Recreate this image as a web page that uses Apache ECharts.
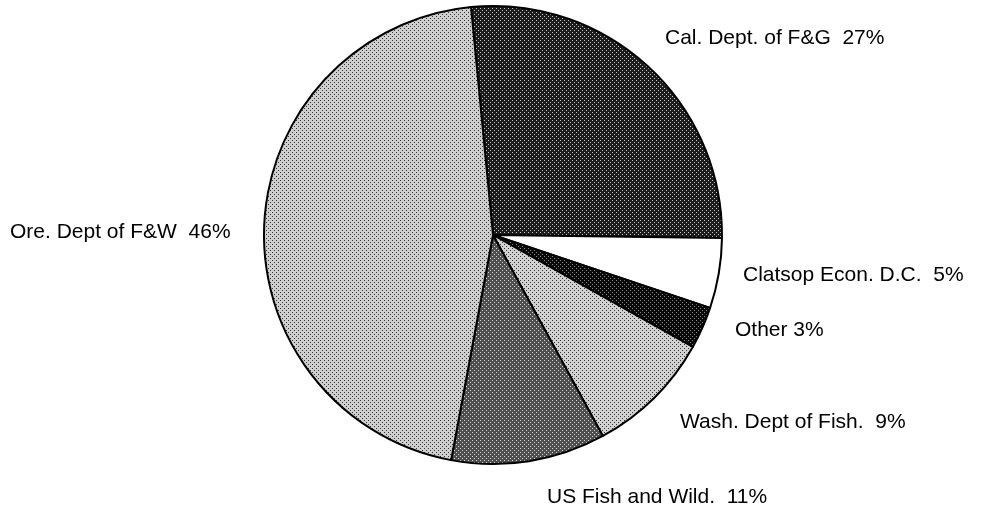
<!DOCTYPE html>
<html>
<head>
<meta charset="utf-8">
<script src="https://cdn.jsdelivr.net/npm/echarts@6/dist/echarts.min.js"></script>
<style>
    html, body { margin: 0; padding: 0; background: #fff; }
    #chart { width: 984px; height: 514px; }
</style>
</head>
<body>
<div id="chart"></div>
<script>
    // slices, clockwise from the top
    var agencies = ['Cal. Dept. of F&G', 'Clatsop Econ. D.C.', 'Other', 'Wash. Dept of Fish.', 'US Fish and Wild.', 'Ore. Dept of F&W'];
    var shares = [27, 5, 3, 9, 11, 46];

    // where each label sits (left edge, middle)
    var labelPos = [[665, 38], [743, 275], [735, 330], [680, 422], [547, 497], [10, 232]];

    // stipple fill: base colour with a diagonal grid of dots
    function stipple(bg, dot, step) {
        var c = document.createElement('canvas');
        c.width = step; c.height = step;
        var ctx = c.getContext('2d');
        ctx.fillStyle = bg;
        ctx.fillRect(0, 0, step, step);
        ctx.fillStyle = dot;
        ctx.fillRect(0, 0, 1, 1);
        ctx.fillRect(step / 2, step / 2, 1, 1);
        return { image: c, repeat: 'repeat' };
    }

    var fills = [
        stipple('#1c1c1c', '#c8c8c8', 4),
        '#ffffff',
        stipple('#0a0a0a', '#8a8a8a', 4),
        stipple('#d2d2d2', '#333333', 4),
        stipple('#4e4e4e', '#d8d8d8', 4),
        stipple('#cfcfcf', '#333333', 4)
    ];

    var myChart = echarts.init(document.getElementById('chart'));
    var option = {
        animation: false,
        series: [{
            type: 'pie',
            center: [493, 235],
            radius: 229,
            startAngle: 95.5,
            clockwise: true,
            silent: true,
            data: agencies.map(function (name, i) {
                return { name: name, value: shares[i], itemStyle: { color: fills[i] } };
            }),
            itemStyle: {
                borderColor: '#000',
                borderWidth: 2
            },
            label: {
                show: true,
                position: 'outside',
                overflow: 'none',
                formatter: function (p) {
                    var gap = p.name === 'Other' ? ' ' : '  ';
                    return p.name + gap + shares[p.dataIndex] + '%';
                },
                fontFamily: 'Liberation Sans, Arial, sans-serif',
                fontSize: 21,
                color: '#000'
            },
            labelLine: { show: false },
            labelLayout: function (params) {
                var pos = labelPos[params.dataIndex];
                return { x: pos[0], y: pos[1], align: 'left', verticalAlign: 'middle', hideOverlap: false };
            }
        }]
    };
    myChart.setOption(option, true);
</script>
</body>
</html>
